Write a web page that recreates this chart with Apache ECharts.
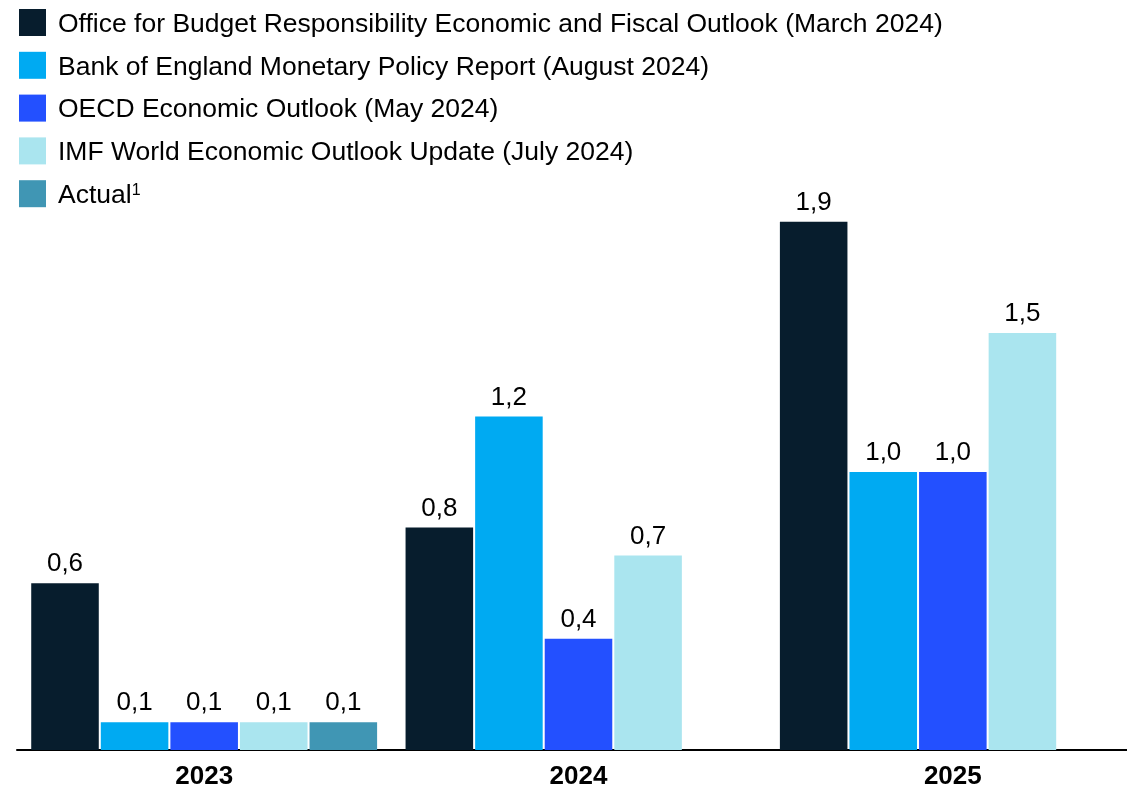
<!DOCTYPE html>
<html>
<head>
<meta charset="utf-8">
<script src="https://cdn.jsdelivr.net/npm/echarts@6/dist/echarts.min.js"></script>
<style>
  html, body { margin: 0; padding: 0; background: #fff; }
  #chart { width: 1127px; height: 789px; }
</style>
</head>
<body>
<div id="chart"></div>
<script>
// UK GDP growth forecasts (%), by year and source
const categories = ['2023', '2024', '2025'];
const seriesNames = [
  'Office for Budget Responsibility Economic and Fiscal Outlook (March 2024)',
  'Bank of England Monetary Policy Report (August 2024)',
  'OECD Economic Outlook (May 2024)',
  'IMF World Economic Outlook Update (July 2024)',
  'Actual'
];
const obr = [0.6, 0.8, 1.9];
const boe = [0.1, 1.2, 1.0];
const oecd = [0.1, 0.4, 1.0];
const imf = [0.1, 0.7, 1.5];
const actual = [0.1, null, null];

const colors = ['#071d2d', '#00aaf2', '#2350ff', '#aae5ef', '#4096b4'];
const FONT = 'Liberation Sans, Arial, sans-serif';

const chart = echarts.init(document.getElementById('chart'));

const makeSeries = (name, data, color) => ({
  name: name,
  type: 'bar',
  data: data,
  barGap: '3%',
  barCategoryGap: '7.6%',
  itemStyle: { color: color },
  label: {
    show: true,
    position: 'top',
    distance: 6,
    color: '#000',
    fontFamily: FONT,
    fontSize: 26,
    formatter: p => p.value.toFixed(1).replace('.', ',')
  }
});

chart.setOption({
  animation: false,
  color: colors,
  legend: {
    orient: 'vertical',
    left: 19,
    top: 9,
    itemWidth: 27,
    itemHeight: 27,
    itemGap: 13.8,
    icon: 'rect',
    padding: 0,
    textStyle: {
      fontFamily: FONT,
      fontSize: 26.5,
      color: '#000',
      padding: [4, 0, 0, 7],
      rich: {
        sup: { fontFamily: FONT, fontSize: 16, color: '#000', verticalAlign: 'top', padding: [0, 0, 10, 0] }
      }
    },
    formatter: name => name === 'Actual' ? 'Actual{sup|1}' : name,
    data: seriesNames
  },
  grid: { left: 17, width: 1123, top: 194, bottom: 39, outerBoundsMode: 'none', containLabel: false },
  xAxis: {
    type: 'category',
    data: categories,
    axisLine: { lineStyle: { color: '#000', width: 2 } },
    axisTick: { show: false },
    axisLabel: {
      color: '#000',
      fontFamily: FONT,
      fontSize: 26,
      fontWeight: 'bold',
      margin: 14
    }
  },
  yAxis: {
    type: 'value',
    min: 0,
    max: 2,
    show: false,
    splitLine: { show: false }
  },
  series: [
    makeSeries(seriesNames[0], obr, colors[0]),
    makeSeries(seriesNames[1], boe, colors[1]),
    makeSeries(seriesNames[2], oecd, colors[2]),
    makeSeries(seriesNames[3], imf, colors[3]),
    makeSeries(seriesNames[4], actual, colors[4])
  ]
});
</script>
</body>
</html>
